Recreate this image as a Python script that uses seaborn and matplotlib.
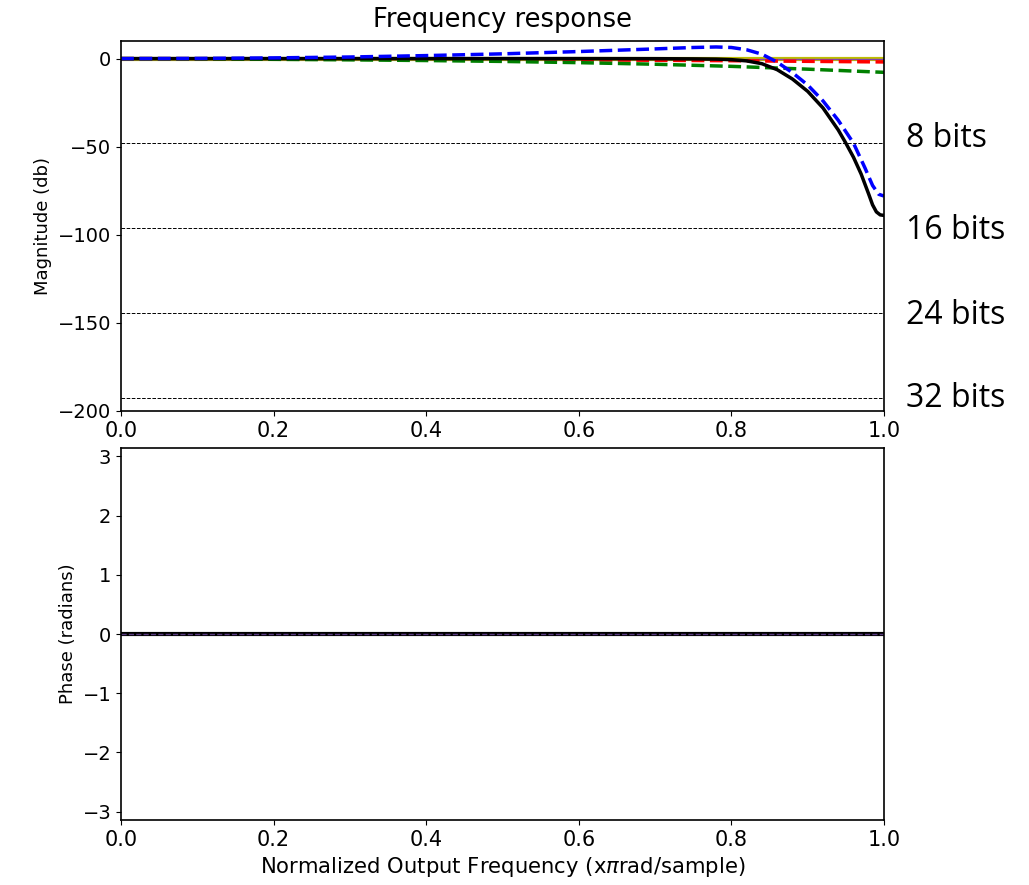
import numpy as np
import pandas as pd
import matplotlib
matplotlib.use("Agg")
import matplotlib.pyplot as plt
import seaborn as sns

# magnitude curves (dB)
freq_black = [0.0, 0.2, 0.4, 0.6, 0.7, 0.75, 0.78, 0.8, 0.82, 0.84, 0.86, 0.88, 0.9, 0.92,
              0.94, 0.95, 0.96, 0.97, 0.98, 0.985, 0.99, 0.995, 1.0]
mag_black = [0.0, 0.0, 0.0, 0.0, -0.05, -0.15, -0.3, -0.6, -1.3, -2.9, -6.3, -11.6, -18.6, -28.0,
             -40.5, -48.0, -56.0, -65.5, -77.0, -83.0, -87.0, -88.7, -89.0]

freq_blue = [0.0, 0.1, 0.2, 0.3, 0.4, 0.5, 0.6, 0.7, 0.75, 0.78, 0.8, 0.82, 0.84, 0.86, 0.88,
             0.9, 0.92, 0.94, 0.96, 0.975, 0.985, 0.993, 1.0]
mag_blue = [0.0, 0.1, 0.4, 0.9, 1.7, 2.7, 4.0, 5.5, 6.3, 6.6, 6.3, 5.0, 2.5, -2.0, -8.0,
            -15.0, -24.0, -35.0, -48.0, -62.0, -72.0, -77.0, -78.0]

freq_green = [0.0, 0.1, 0.2, 0.3, 0.4, 0.5, 0.6, 0.7, 0.8, 0.9, 1.0]
mag_green = [0.0, -0.1, -0.4, -0.7, -1.1, -1.6, -2.3, -3.2, -4.4, -6.0, -7.8]

freq_red = [0.0, 0.2, 0.4, 0.6, 0.8, 1.0]
mag_red = [0.0, -0.1, -0.3, -0.7, -1.2, -1.9]

freq_flat = [0.0, 1.0]
mag_flat = [0.0, 0.0]

# quantisation floors, 6.02 dB per bit
bits = [8, 16, 24, 32]
bit_labels = ["8 bits", "16 bits", "24 bits", "32 bits"]
floors = [-6.0206 * b for b in bits]

# phase (all zero)
phase_freq = [0.0, 1.0]
phase_vals = [0.0, 0.0]

sns.set_style("ticks")
plt.rcParams.update({"text.color": "black", "axes.labelcolor": "black",
                     "xtick.color": "black", "ytick.color": "black",
                     "axes.edgecolor": "black", "font.family": ["DejaVu Sans"]})

fig = plt.figure(figsize=(10.29, 8.85), dpi=100)
ax1 = fig.add_axes([0.1176, 0.5356, 0.7415, 0.4181])
ax2 = fig.add_axes([0.1176, 0.0734, 0.7415, 0.4204])

for f in floors:
    ax1.axhline(f, color="black", ls="--", lw=0.7)

sns.lineplot(x=freq_flat, y=mag_flat, ax=ax1, color="#bfbf00", lw=3, estimator=None)
sns.lineplot(x=freq_flat, y=mag_flat, ax=ax1, color="#8040b0", lw=1, estimator=None)
sns.lineplot(x=freq_red, y=mag_red, ax=ax1, color="red", lw=2.5, ls="--", estimator=None)
sns.lineplot(x=freq_green, y=mag_green, ax=ax1, color="green", lw=2.5, ls="--", estimator=None)
sns.lineplot(x=freq_black, y=mag_black, ax=ax1, color="black", lw=2.5, estimator=None)
sns.lineplot(x=freq_blue, y=mag_blue, ax=ax1, color="blue", lw=2.5, ls="--", estimator=None)

ax1.set_xlim(0, 1)
ax1.set_ylim(-200, 10)
ax1.set_yticks([0, -50, -100, -150, -200])
ax1.set_ylabel("Magnitude (db)", fontsize=13)
ax1.set_title("Frequency response", fontsize=18.5, pad=10)
ax1.tick_params(axis="y", labelsize=14)
ax1.tick_params(axis="x", labelsize=15)

# label offsets in pixels next to each floor line
label_dy = [5, -2, -2, 0]
for f, lab, dy in zip(floors, bit_labels, label_dy):
    ax1.annotate(lab, xy=(1.0, f), xycoords=("axes fraction", "data"),
                 xytext=(22, dy), textcoords="offset pixels",
                 fontsize=23, family=["Open Sans", "DejaVu Sans"], va="center", ha="left")

sns.lineplot(x=phase_freq, y=phase_vals, ax=ax2, color="black", lw=3, estimator=None)
sns.lineplot(x=phase_freq, y=phase_vals, ax=ax2, color="#5a3a80", lw=1, ls="--", estimator=None)
ax2.set_xlim(0, 1)
ax2.set_ylim(-np.pi, np.pi)
ax2.set_yticks([-3, -2, -1, 0, 1, 2, 3])
ax2.set_ylabel("Phase (radians)", fontsize=13)
ax2.set_xlabel(r"Normalized Output Frequency (x$\pi$rad/sample)", fontsize=15.2)
ax2.tick_params(axis="y", labelsize=14)
ax2.tick_params(axis="x", labelsize=15)

for ax in (ax1, ax2):
    for s in ax.spines.values():
        s.set_linewidth(1.2)

fig.savefig("out.png", dpi=100)
